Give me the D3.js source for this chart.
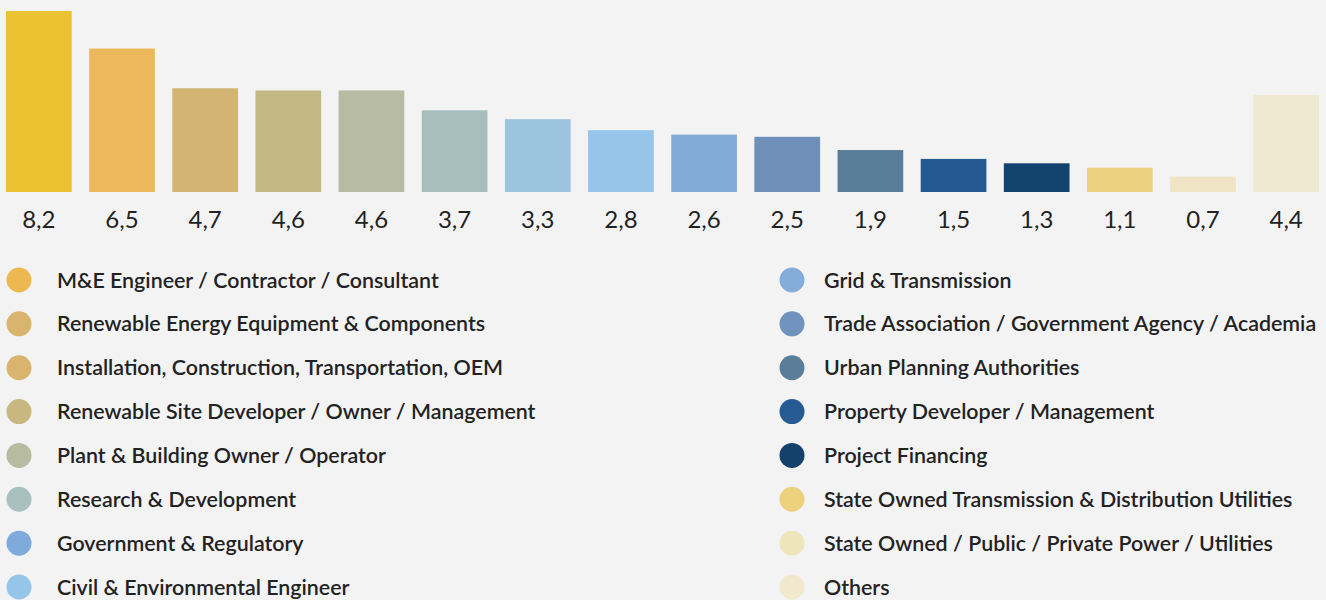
<!DOCTYPE html>
<html>
<head>
<meta charset="utf-8">
<script src="https://cdn.jsdelivr.net/npm/d3@7"></script>
<style>
  html, body { margin: 0; padding: 0; background: #f3f3f4; }
  svg { display: block; }
</style>
</head>
<body>
<div id="chart"></div>
<script>
// categories, in bar order
var categories = [
    "M&E Engineer / Contractor / Consultant",
    "Renewable Energy Equipment & Components",
    "Installation, Construction, Transportation, OEM",
    "Renewable Site Developer / Owner / Management",
    "Plant & Building Owner / Operator",
    "Research & Development",
    "Government & Regulatory",
    "Civil & Environmental Engineer",
    "Grid & Transmission",
    "Trade Association / Government Agency / Academia",
    "Urban Planning Authorities",
    "Property Developer / Management",
    "Project Financing",
    "State Owned Transmission & Distribution Utilities",
    "State Owned / Public / Private Power / Utilities",
    "Others"
];
var values = [8.2, 6.5, 4.7, 4.6, 4.6, 3.7, 3.3, 2.8, 2.6, 2.5, 1.9, 1.5, 1.3, 1.1, 0.7, 4.4];
var barColors = ["#ebc231", "#edb85b", "#d4b472", "#c4b885", "#b7bba1", "#a8bebd", "#9cc4de", "#96c5e9",
                 "#82abd7", "#6e8fb7", "#577d98", "#245a91", "#12426d", "#ebd27e", "#efe4c3", "#efe9d1"];
var legendColors = ["#edb850", "#d9b46e", "#d9b46e", "#c8b880", "#b7bb9f", "#a8c0be", "#7eabdb", "#95c6ea",
                    "#84acda", "#7093bd", "#5a7e99", "#255a92", "#13416c", "#edd17c", "#efe5bd", "#f0e9ce"];

var svgWidth = 1326;
var svgHeight = 600;

var svg = d3.select("#chart")
    .append("svg")
        .attr("width", svgWidth)
        .attr("height", svgHeight);

// bar area
var barLeft = 6, barRight = 1319, baseY = 192;

var x = d3.scaleBand()
    .domain(d3.range(values.length))
    .range([barLeft, barRight])
    .paddingInner(0.21)
    .paddingOuter(0);

var y = d3.scaleLinear()
    .domain([0, 8.2])
    .range([baseY, 11]);

svg.selectAll("rect.bar")
    .data(values)
    .enter()
    .append("rect")
        .attr("class", "bar")
        .attr("x", function(d, i) { return x(i); })
        .attr("y", function(d) { return y(d); })
        .attr("width", x.bandwidth())
        .attr("height", function(d) { return baseY - y(d); })
        .style("fill", function(d, i) { return barColors[i]; });

var fmt = function(v) { return d3.format(".1f")(v).replace(".", ","); };

svg.selectAll("text.val")
    .data(values)
    .enter()
    .append("text")
        .attr("class", "val")
        .attr("x", function(d, i) { return x(i) + x.bandwidth() / 2; })
        .attr("y", 228)
        .attr("text-anchor", "middle")
        .attr("font-family", "Lato, sans-serif")
        .attr("font-size", "24px")
        .attr("fill", "#222")
        .text(fmt);

// legend, two columns of 8
var rowY = d3.scaleLinear().domain([0, 7]).range([280, 587]);
var legend = svg.selectAll("g.leg")
    .data(categories)
    .enter()
    .append("g")
        .attr("class", "leg")
        .attr("transform", function(d, i) {
            var col = Math.floor(i / 8);
            return "translate(" + (col === 0 ? 19 : 792) + "," + rowY(i % 8) + ")";
        });

legend.append("circle")
    .attr("r", 12.5)
    .style("fill", function(d, i) { return legendColors[i]; });

legend.append("text")
    .attr("x", function(d, i) { return i < 8 ? 38 : 32; })
    .attr("dy", "0.35em")
    .attr("font-family", "Lato, sans-serif")
    .attr("font-size", "21.4px")
    .attr("font-weight", 600)
    .attr("fill", "#222")
    .text(function(d) { return d; });
</script>
</body>
</html>
